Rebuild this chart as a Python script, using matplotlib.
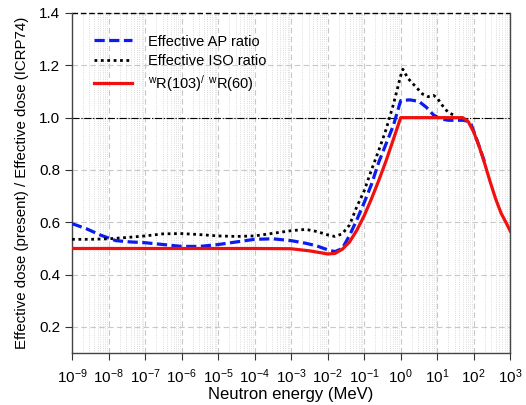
import numpy as np
import matplotlib
matplotlib.use("Agg")
import matplotlib.pyplot as plt
from matplotlib.ticker import LogLocator, FixedLocator, NullFormatter

plt.rcParams['font.family'] = ['Liberation Sans', 'DejaVu Sans']
plt.rcParams['mathtext.fontset'] = 'custom'
plt.rcParams['mathtext.rm'] = 'Liberation Sans'
plt.rcParams['mathtext.it'] = 'Liberation Sans'

# log10 of neutron energy (MeV) and ratios
ap_logE = [-9, -8.6, -8.2, -7.8, -7.4, -7, -6.5, -6, -5.5, -5, -4.5, -4, -3.5, -3,
           -2.6, -2.3, -2, -1.8, -1.6, -1.4, -1.2, -1, -0.8, -0.6, -0.4, -0.2, 0,
           0.25, 0.5, 0.7, 0.9, 1.1, 1.3, 1.5, 1.7, 1.9, 2.05, 2.2, 2.3]
ap_ratio = [0.595, 0.575, 0.55, 0.53, 0.525, 0.522, 0.515, 0.508, 0.508, 0.515, 0.525,
            0.535, 0.537, 0.53, 0.52, 0.51, 0.495, 0.488, 0.5, 0.55, 0.61, 0.675,
            0.745, 0.83, 0.9, 0.97, 1.065, 1.068, 1.062, 1.04, 1.01, 0.995, 0.99,
            0.99, 0.99, 0.985, 0.93, 0.87, 0.83]

iso_logE = [-9, -8.5, -8, -7.5, -7, -6.5, -6, -5.5, -5, -4.5, -4, -3.5, -3, -2.6, -2.3,
            -2, -1.8, -1.6, -1.4, -1.2, -1, -0.8, -0.6, -0.4, -0.2, 0, 0.06, 0.2,
            0.4, 0.6, 0.75, 0.9, 1.0, 1.15, 1.3, 1.45]
iso_ratio = [0.535, 0.535, 0.537, 0.542, 0.548, 0.556, 0.557, 0.553, 0.548, 0.546,
             0.548, 0.558, 0.568, 0.573, 0.565, 0.552, 0.546, 0.556, 0.59, 0.66,
             0.72, 0.8, 0.875, 0.955, 1.05, 1.16, 1.185, 1.15, 1.12, 1.09, 1.08,
             1.085, 1.075, 1.045, 1.02, 1.01]

wr_logE = [-9, -4, -3, -2.5, -2.2, -2, -1.8, -1.6, -1.4, -1.2, -1, -0.8, -0.6, -0.4,
           -0.2, 0, 0.5, 1, 1.5, 1.7, 1.85, 2, 2.15, 2.3, 2.45, 2.6, 2.75, 2.9, 3]
wr_ratio = [0.5, 0.5, 0.499, 0.491, 0.484, 0.479, 0.481, 0.497, 0.525, 0.57, 0.625,
            0.69, 0.76, 0.835, 0.917, 1.0, 1.0, 1.0, 1.0, 1.0, 0.985, 0.945, 0.89,
            0.825, 0.755, 0.69, 0.635, 0.595, 0.567]

x_ticks = [10.0 ** k for k in range(-9, 4)]
x_labels = [r'$10^{%d}$' % k for k in range(-9, 4)]
y_ticks = [0.2, 0.4, 0.6, 0.8, 1.0, 1.2, 1.4]

fig = plt.figure(figsize=(5.26, 4.05), dpi=100)
ax = fig.add_axes([0.137, 0.128, 0.833, 0.840])

ax.plot(10.0 ** np.array(ap_logE), ap_ratio, color='#0a1cf0', lw=2.3,
        dashes=(3.2, 1.4), label='Effective AP ratio', zorder=3)
ax.plot(10.0 ** np.array(iso_logE), iso_ratio, color='black', lw=2.0,
        dashes=(1, 1.3), label='Effective ISO ratio', zorder=3)
ax.plot(10.0 ** np.array(wr_logE), wr_ratio, color='#f01010', lw=2.3,
        label=r'$^{w}$R(103)$^{/}$ $^{w}$R(60)', zorder=4)

ax.axhline(1.0, color='black', lw=0.8, ls='-.', zorder=2)
ax.axhline(1.4, color='black', lw=1.0, ls=(0, (4, 2)), zorder=2, clip_on=False)

ax.set_xscale('log')
ax.set_xlim(1e-9, 1e3)
ax.set_ylim(0.1, 1.4)
ax.xaxis.set_major_locator(FixedLocator(x_ticks))
ax.set_xticklabels(x_labels)
ax.xaxis.set_minor_locator(LogLocator(base=10, subs=np.arange(2, 10), numticks=100))
ax.xaxis.set_minor_formatter(NullFormatter())
ax.set_yticks(y_ticks)
ax.set_yticklabels(['%.1f' % v for v in y_ticks])

ax.grid(which='major', color='#c8c8c8', lw=0.8, ls=(0, (5, 3)))
ax.grid(which='minor', axis='x', color='#d0d0d0', lw=0.6, ls=':')
ax.tick_params(which='major', direction='out', length=5, labelsize=11,
               color='#333333')
ax.tick_params(which='minor', length=0)
ax.tick_params(axis='x', pad=5)

ax.spines['top'].set_visible(False)
for s in ['left', 'bottom', 'right']:
    ax.spines[s].set_color('#444444')
    ax.spines[s].set_linewidth(1.0)

ax.set_xlabel('Neutron energy (MeV)', fontsize=12, labelpad=1)
ax.set_ylabel('Effective dose (present) / Effective dose (ICRP74)', fontsize=10.8,
              labelpad=7)

ax.legend(loc='upper left', bbox_to_anchor=(0.02, 0.975), frameon=False,
          fontsize=10.5, handlelength=2.6, handletextpad=1.1, labelspacing=0.35)

fig.savefig('out.png', dpi=100)
